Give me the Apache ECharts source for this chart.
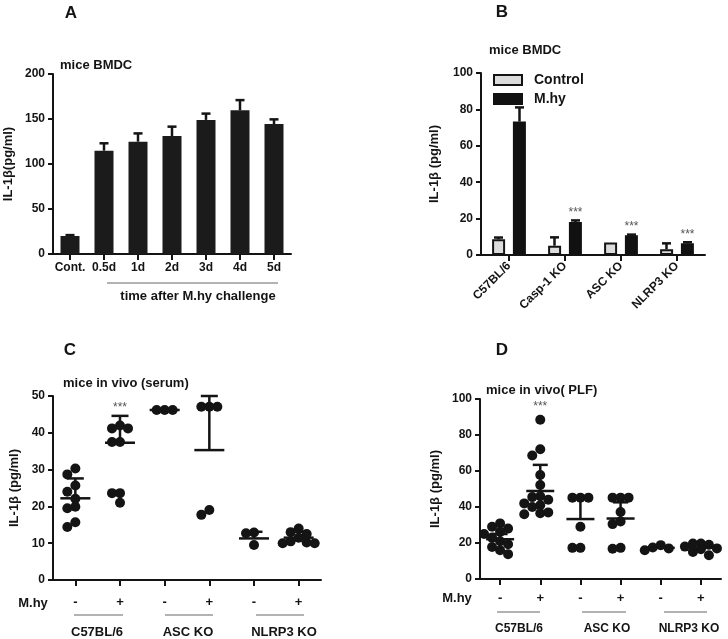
<!DOCTYPE html>
<html><head><meta charset="utf-8">
<script src="https://cdn.jsdelivr.net/npm/echarts@6/dist/echarts.min.js"></script>
<style>html,body{margin:0;padding:0;background:#fff}#c{width:728px;height:639px}</style>
</head><body><div id="c"></div><script>
// ---------- Panel A ----------
const catsA = ['Cont.', '0.5d', '1d', '2d', '3d', '4d', '5d'];
const valsA = [20, 114.8, 124.8, 131, 149, 159.6, 144.4];
const errA  = [21, 123, 134, 141.5, 156, 171, 149.6];
// ---------- Panel B ----------
const catsB = ['C57BL/6', 'Casp-1 KO', 'ASC KO', 'NLRP3 KO'];
const ctrlB = [8.6, 5.1, 6.8, 3.1];
const ctrlErrB = [9.6, 9.7, 7.0, 6.4];
const mhyB = [73.3, 18.1, 10.8, 6.4];
const mhyErrB = [81.1, 19.0, 11.2, 7.0];
const starsB = ['', '***', '***', '***'];
// ---------- Panel C ----------
const catsC = ['-', '+', '-', '+', '-', '+'];
const groupNames = ['C57BL/6', 'ASC KO', 'NLRP3 KO'];
const ptsC = [
  [30.3, 28.7, 25.7, 24.0, 22.1, 19.9, 19.5, 15.7, 14.4],
  [42.0, 41.2, 41.2, 37.5, 37.5, 23.6, 23.6, 21.0],
  [46.2, 46.2, 46.2],
  [47.1, 47.1, 47.1, 19.0, 17.7],
  [12.9, 12.7, 9.5],
  [14.0, 13.0, 12.5, 11.5, 10.5, 10.2, 10.0, 10.0]
];
const meanC = [22.2, 37.3, 46.2, 35.3, 11.3, 11.5];
const errC  = [27.6, 44.6, 46.2, 50.0, 13.1, 13.1];
const starsC = ['', '***', '', '', '', ''];
// ---------- Panel D ----------
const catsD = ['-', '+', '-', '+', '-', '+'];
const ptsD = [
  [30.9, 29.0, 28.0, 26.2, 25.0, 23.0, 21.0, 19.3, 17.8, 16.0, 13.8],
  [88.5, 72.1, 68.6, 57.8, 52.2, 46.0, 45.5, 44.0, 42.0, 41.0, 40.0, 37.0, 36.5, 36.0],
  [45.2, 45.2, 45.2, 29.0, 17.3, 17.3],
  [45.2, 45.2, 45.2, 37.2, 32.0, 30.5, 17.3, 16.8],
  [18.8, 17.5, 17.0, 16.0],
  [19.7, 19.7, 19.0, 18.0, 17.0, 16.5, 15.0, 13.2]
];
const meanD = [22.1, 48.9, 33.3, 33.6, 17.3, 17.3];
const errD  = [25.0, 63.4, 45.2, 42.6, 17.3, 17.3];
const starsD = ['', '***', '', '', '', ''];

const FF = '"Liberation Sans", Arial, sans-serif';
const INK = '#141414';

function yAx(grid, max, interval, name, gap) {
  return { type: 'value', gridIndex: grid, min: 0, max: max, interval: interval,
    name: name, nameLocation: 'middle', nameGap: gap,
    nameTextStyle: { fontFamily: FF, fontWeight: 'bold', fontSize: 13, color: INK },
    axisLine: { show: true, lineStyle: { color: INK, width: 2 } },
    axisTick: { show: true, length: 5, lineStyle: { color: INK, width: 2 } },
    axisLabel: { fontFamily: FF, fontWeight: 'bold', fontSize: 12, color: INK, margin: 8 },
    splitLine: { show: false } };
}
function xAx(grid, data, labelExtra) {
  return { type: 'category', gridIndex: grid, data: data, boundaryGap: true,
    axisLine: { show: true, lineStyle: { color: INK, width: 2 } },
    axisTick: { show: true, alignWithLabel: true, length: 6, lineStyle: { color: INK, width: 2 } },
    axisLabel: Object.assign({ interval: 0, fontFamily: FF, fontWeight: 'bold', fontSize: 12, color: INK, margin: 8 }, labelExtra || {}),
    splitLine: { show: false } };
}

function errSeries(xi, yi, vals, errs, off, capW, stars) {
  return { type: 'custom', xAxisIndex: xi, yAxisIndex: yi, z: 3,
    data: vals.map((v, i) => [i, v, errs[i]]),
    encode: { x: 0, y: [1, 2] },
    renderItem: function (params, api) {
      const i = api.value(0);
      const base = api.coord([i, api.value(1)]);
      const top = api.coord([i, api.value(2)]);
      const x = base[0] + off;
      const kids = [];
      if (top[1] < base[1] - 0.5) {
        kids.push({ type: 'line', shape: { x1: x, y1: base[1], x2: x, y2: top[1] }, style: { stroke: INK, lineWidth: 2.5 } });
        kids.push({ type: 'line', shape: { x1: x - capW / 2, y1: top[1], x2: x + capW / 2, y2: top[1] }, style: { stroke: INK, lineWidth: 2.5 } });
      }
      if (stars && stars[params.dataIndex]) {
        kids.push({ type: 'text', style: { text: stars[params.dataIndex], x: x, y: Math.min(top[1], base[1]) - 8,
          align: 'center', verticalAlign: 'middle', fill: '#555', font: '12px ' + FF } });
      }
      return { type: 'group', children: kids };
    } };
}

function swarmSeries(xi, yi, pts, means, errs, stars, meanW, capW) {
  return { type: 'custom', xAxisIndex: xi, yAxisIndex: yi, z: 3,
    data: pts.map((p, i) => [i, means[i], errs[i]]),
    encode: { x: 0, y: [1, 2] },
    renderItem: function (params, api) {
      const i = params.dataIndex;
      const cx = api.coord([i, 0])[0];
      const ys = pts[i].map(v => api.coord([i, v])[1]).sort((a, b) => a - b);
      const d = 8, R = 5, th = 8;
      const placed = [];
      ys.forEach(y => {
        let best = null, bestD = -1;
        for (const k of [0, -1, 1, -2, 2]) {
          const x = cx + k * d;
          let md = Infinity;
          placed.forEach(p => { md = Math.min(md, Math.hypot(p[0] - x, p[1] - y)); });
          if (md >= th) { best = x; bestD = md; break; }
          if (md > bestD) { bestD = md; best = x; }
        }
        placed.push([best, y]);
      });
      const kids = placed.map(p => ({ type: 'circle', shape: { cx: p[0], cy: p[1], r: R }, style: { fill: INK } }));
      const my = api.coord([i, means[i]])[1];
      const ey = api.coord([i, errs[i]])[1];
      if (ey < my - 0.5) {
        kids.push({ type: 'line', shape: { x1: cx, y1: my, x2: cx, y2: ey }, style: { stroke: INK, lineWidth: 2.5 } });
        kids.push({ type: 'line', shape: { x1: cx - capW / 2, y1: ey, x2: cx + capW / 2, y2: ey }, style: { stroke: INK, lineWidth: 2.5 } });
      }
      kids.push({ type: 'line', shape: { x1: cx - meanW / 2, y1: my, x2: cx + meanW / 2, y2: my }, style: { stroke: INK, lineWidth: 2.5 } });
      if (stars[i]) {
        const topY = Math.min(ey, ys[0] - R);
        kids.push({ type: 'text', style: { text: stars[i], x: cx, y: topY - 8, align: 'center', verticalAlign: 'middle', fill: '#555', font: '12px ' + FF } });
      }
      return { type: 'group', children: kids };
    } };
}

function txt(x, y, text, size, opts) {
  return { type: 'text', x: x, y: y, style: { text: text, font: 'bold ' + size + 'px ' + FF, fill: INK,
    align: (opts && opts.align) || 'center', verticalAlign: 'middle' } };
}
function hline(x1, x2, y) {
  return { type: 'line', shape: { x1: x1, y1: y, x2: x2, y2: y }, style: { stroke: '#666', lineWidth: 1 } };
}

const graphics = [
  txt(71, 13, 'A', 17), txt(502, 12, 'B', 17), txt(70, 350, 'C', 17), txt(502, 350, 'D', 17),
  txt(60, 65, 'mice BMDC', 13, { align: 'left' }),
  txt(489, 50, 'mice BMDC', 13, { align: 'left' }),
  txt(63, 383, 'mice in vivo (serum)', 13, { align: 'left' }),
  txt(486, 390, 'mice in vivo( PLF)', 13, { align: 'left' }),
  hline(107, 278, 283), txt(198, 296, 'time after M.hy challenge', 13),
  txt(33, 603, 'M.hy', 13), txt(457, 598, 'M.hy', 13),
  hline(74, 123, 615), hline(165, 213, 615), hline(256, 304, 615),
  txt(97, 632, groupNames[0], 13), txt(188, 632, groupNames[1], 13), txt(284, 632, groupNames[2], 13),
  hline(497, 540, 612), hline(582, 626, 612), hline(664, 707, 612),
  txt(519, 629, groupNames[0], 12), txt(607, 629, groupNames[1], 12), txt(689, 629, groupNames[2], 12)
];

const option = {
  animation: false,
  backgroundColor: '#fff',
  grid: [
    { left: 53, top: 74, width: 238, height: 180 },
    { left: 481, top: 73, width: 224, height: 182 },
    { left: 53, top: 396, width: 268, height: 184 },
    { left: 480, top: 399, width: 241, height: 180 }
  ],
  xAxis: [
    xAx(0, catsA, { margin: 8 }),
    xAx(1, catsB, { rotate: 45, margin: 9 }),
    xAx(2, catsC, { margin: 16, fontSize: 13 }),
    xAx(3, catsD, { margin: 13, fontSize: 13 })
  ],
  yAxis: [
    yAx(0, 200, 50, 'IL-1β(pg/ml)', 38),
    yAx(1, 100, 20, 'IL-1β (pg/ml)', 40),
    yAx(2, 50, 10, 'IL-1β (pg/ml)', 32),
    yAx(3, 100, 20, 'IL-1β (pg/ml)', 38)
  ],
  legend: {
    data: ['Control', 'M.hy'], orient: 'vertical', left: 488, top: 68,
    itemWidth: 28, itemHeight: 10, itemGap: 5, icon: 'rect',
    textStyle: { fontFamily: FF, fontWeight: 'bold', fontSize: 14, color: INK, lineHeight: 14, padding: [0, 0, 0, 7] }
  },
  series: [
    { type: 'bar', name: 'A', xAxisIndex: 0, yAxisIndex: 0, data: valsA, barWidth: 19, z: 4,
      itemStyle: { color: '#1b1b1b' } },
    errSeries(0, 0, valsA, errA, 0, 9, null),
    { type: 'bar', name: 'Control', xAxisIndex: 1, yAxisIndex: 1, data: ctrlB, barWidth: 13, barGap: '60%', z: 4,
      itemStyle: { color: '#dcdcdc', borderColor: INK, borderWidth: 2 } },
    { type: 'bar', name: 'M.hy', xAxisIndex: 1, yAxisIndex: 1, data: mhyB, barWidth: 13, barGap: '60%', z: 4,
      itemStyle: { color: '#111', borderColor: '#111', borderWidth: 2 } },
    errSeries(1, 1, ctrlB, ctrlErrB, -10.5, 9, null),
    errSeries(1, 1, mhyB, mhyErrB, 10.5, 9, starsB),
    swarmSeries(2, 2, ptsC, meanC, errC, starsC, 30, 17),
    swarmSeries(3, 3, ptsD, meanD, errD, starsD, 28, 15)
  ],
  graphic: graphics
};
const chart = echarts.init(document.getElementById('c'));
chart.setOption(option);
</script></body></html>
